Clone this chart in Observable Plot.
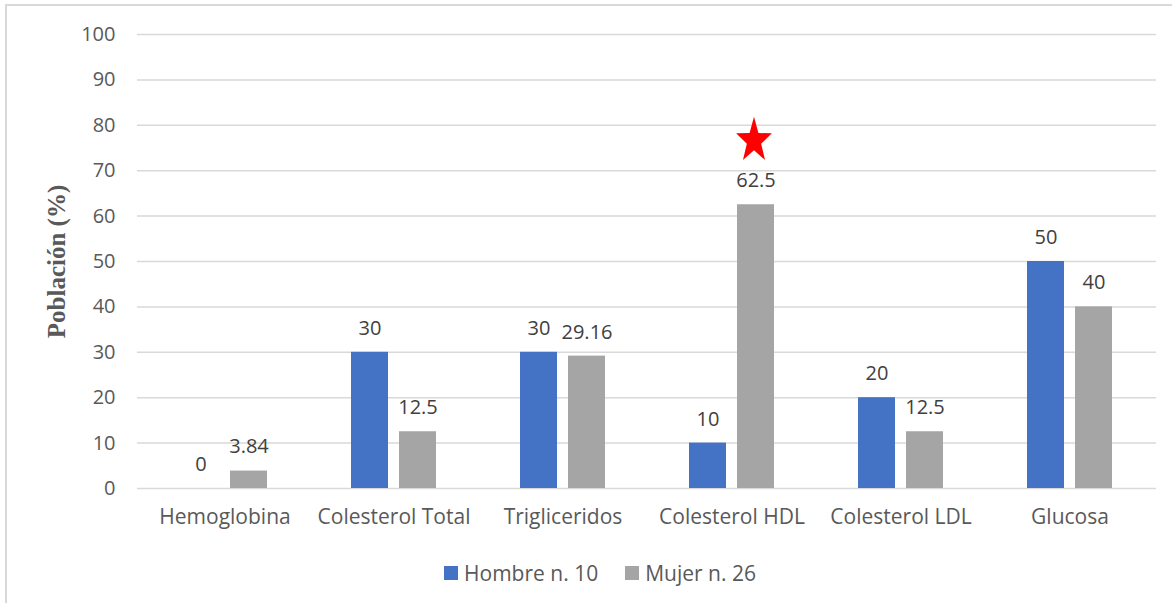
<!DOCTYPE html>
<html>
<head>
<meta charset="utf-8">
<script src="https://cdn.jsdelivr.net/npm/d3@7"></script>
<script src="https://cdn.jsdelivr.net/npm/@observablehq/plot@0.6"></script>
<style>
  body { margin: 0; background: #fff; font-family: "Open Sans", sans-serif; }
  #chart { position: relative; width: 1172px; height: 603px; overflow: hidden; background: #fff; }
  #frame { position: absolute; left: 5px; top: 4px; right: -20px; bottom: -20px;
           border-left: 2px solid #d9d9d9; border-top: 2px solid #d9d9d9; pointer-events: none; }
  .legend { display: flex; justify-content: center; align-items: center; gap: 27px;
            padding-left: 28px; margin-top: 22px; height: 22px;
            font-size: 21px; line-height: 22px; color: #595959; }
  .legend .item { display: flex; align-items: center; }
  .legend .sw { display: inline-block; width: 14px; height: 14px; margin-right: 6px; }
</style>
</head>
<body>
<div id="chart"><div id="frame"></div></div>
<script>
// Parameters by sex, percentage of population
const categories = ["Hemoglobina", "Colesterol Total", "Trigliceridos", "Colesterol HDL", "Colesterol LDL", "Glucosa"];
const hombre = [0, 30, 30, 10, 20, 50];
const mujer = [3.84, 12.5, 29.16, 62.5, 12.5, 40];
const series = ["Hombre n. 10", "Mujer n. 26"];
const colors = ["#4472C4", "#A5A5A5"];
const yTicks = [0, 10, 20, 30, 40, 50, 60, 70, 80, 90, 100];
const highlighted = ["Colesterol HDL"];
const yTitle = "Población (%)";

const rows = categories.flatMap((c, i) => [
  {category: c, series: series[0], value: hombre[i]},
  {category: c, series: series[1], value: mujer[i]}
]);
const men = rows.filter(d => d.series === series[0]);
const women = rows.filter(d => d.series === series[1]);
const stars = women.filter(d => highlighted.includes(d.category));

// Five-pointed star, slightly taller than wide
const starShape = {
  draw(ctx) {
    const R = 18.8, s = 1.27, k = 0.4;
    for (let i = 0; i < 10; i++) {
      const a = -Math.PI / 2 + i * Math.PI / 5;
      const r = i % 2 ? R * k : R;
      const x = r * Math.cos(a), y = r * Math.sin(a) * s;
      if (i === 0) ctx.moveTo(x, y); else ctx.lineTo(x, y);
    }
    ctx.closePath();
  }
};

const plot = Plot.plot({
  width: 1172,
  height: 540,
  marginLeft: 137,
  marginRight: 16,
  marginTop: 34,
  marginBottom: 52,
  style: {fontFamily: "'Open Sans', sans-serif", fontSize: "20px", color: "#595959", background: "transparent"},
  x: {domain: categories, padding: 0, label: null},
  y: {domain: [0, 100], label: null},
  color: {domain: series, range: colors},
  marks: [
    Plot.ruleY(yTicks, {stroke: "#d9d9d9", strokeWidth: 1.5}),
    Plot.axisY({ticks: yTicks, tickSize: 0, tickPadding: 22, label: null}),
    Plot.axisX({tickSize: 0, tickPadding: 21, label: null, fontSize: 21}),
    Plot.barY(men, {x: "category", y: "value", fill: "series", insetLeft: 42, insetRight: 90}),
    Plot.barY(women, {x: "category", y: "value", fill: "series", insetLeft: 90, insetRight: 42}),
    Plot.text(men, {x: "category", y: "value", text: d => String(d.value), dx: -24, dy: -24, fill: "#404040"}),
    Plot.text(women, {x: "category", y: "value", text: d => String(d.value), dx: 24, dy: -24, fill: "#404040"}),
    Plot.dot(stars, {x: "category", y: "value", dx: 22, dy: -64, symbol: starShape, fill: "#FF0000", r: 10}),
    Plot.text([yTitle], {frameAnchor: "left", textAnchor: "middle", dx: -81, rotate: -90,
      fontFamily: "'Liberation Serif', serif", fontWeight: "bold", fontSize: 25, fill: "#595959"})
  ]
});

const chart = document.getElementById("chart");
chart.appendChild(plot);

const legend = document.createElement("div");
legend.className = "legend";
series.forEach((s, i) => {
  const item = document.createElement("div");
  item.className = "item";
  const sw = document.createElement("span");
  sw.className = "sw";
  sw.style.background = colors[i];
  item.appendChild(sw);
  item.appendChild(document.createTextNode(s));
  legend.appendChild(item);
});
chart.appendChild(legend);
</script>
</body>
</html>
